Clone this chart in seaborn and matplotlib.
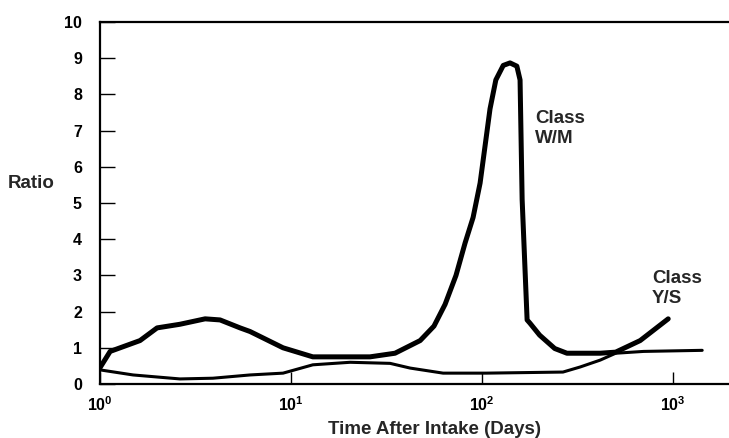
import pandas as pd
import seaborn as sns
import matplotlib.pyplot as plt
from matplotlib.ticker import LogLocator, NullLocator

# thick curve (peak near 130 days)
time_wm = [1, 1.13, 1.62, 1.99, 2.62, 3.55, 4.25, 5.41, 6.1, 9.08, 13, 25.9, 35, 47.4, 56, 64,
           73, 81.5, 89.7, 97.6, 110, 118, 129, 140, 152, 158, 162, 172, 178, 200, 240, 278, 415,
           500, 672, 942]
ratio_wm = [0.45, 0.9, 1.2, 1.55, 1.65, 1.8, 1.77, 1.55, 1.45, 1.0, 0.75, 0.75, 0.85, 1.2, 1.6, 2.2,
            3.0, 3.9, 4.6, 5.55, 7.6, 8.4, 8.8, 8.87, 8.78, 8.4, 5.1, 1.77, 1.68, 1.35, 0.98, 0.85, 0.85,
            0.88, 1.2, 1.8]

# thin curve
time_ys = [1, 1.49, 2.62, 3.9, 6.1, 9.08, 13, 20.4, 33, 42, 62.5, 105, 265, 326, 415, 500,
           700, 1419]
ratio_ys = [0.39, 0.25, 0.14, 0.16, 0.25, 0.3, 0.53, 0.6, 0.57, 0.44, 0.3, 0.3, 0.33, 0.47,
            0.66, 0.85, 0.9, 0.93]

df_wm = pd.DataFrame({"time": time_wm, "ratio": ratio_wm})
df_ys = pd.DataFrame({"time": time_ys, "ratio": ratio_ys})

sns.set_style("ticks")
plt.rcParams['font.family'] = ['Liberation Sans', 'DejaVu Sans']
plt.rcParams['font.weight'] = 'bold'
plt.rcParams['mathtext.default'] = 'regular'

fig = plt.figure(figsize=(7.29, 4.38), dpi=100)
ax = fig.add_axes([100 / 729, 54 / 438, 629 / 729, 362 / 438])

sns.lineplot(data=df_wm, x="time", y="ratio", color="black", linewidth=3.6, sort=False, ax=ax)
sns.lineplot(data=df_ys, x="time", y="ratio", color="black", linewidth=2.2, sort=False, ax=ax)

ax.set_xscale("log")
ax.set_xlim(1, 1960)
ax.set_ylim(0, 10)
ax.set_yticks(range(0, 11))
ax.xaxis.set_major_locator(LogLocator(base=10, numticks=10))
ax.xaxis.set_minor_locator(NullLocator())

for s in ["left", "bottom", "top"]:
    ax.spines[s].set_linewidth(1.6)
    ax.spines[s].set_color("black")
ax.spines["right"].set_visible(False)

ax.tick_params(axis="y", direction="in", length=11, width=1, pad=13, labelsize=11.5, colors="black")
ax.tick_params(axis="x", direction="in", length=9, width=1, pad=8, labelsize=11.5, colors="black")

ax.set_xlabel("Time After Intake (Days)", fontsize=13.5, fontweight="bold")
ax.xaxis.set_label_coords((434 - 100) / 629, -(421 - 384) / 362)
ax.xaxis.label.set_va("top")
ax.set_ylabel("")
fig.text(8 / 729, 1 - 184 / 438, "Ratio", fontsize=13.5, va="center", ha="left")

ax.text(535 / 729, 1 - 110 / 438, "Class\nW/M", transform=fig.transFigure, fontsize=13.5,
        va="top", ha="left", linespacing=1.25)
ax.text(652 / 729, 1 - 270 / 438, "Class\nY/S", transform=fig.transFigure, fontsize=13.5,
        va="top", ha="left", linespacing=1.25)

fig.savefig("out.png", dpi=100)
